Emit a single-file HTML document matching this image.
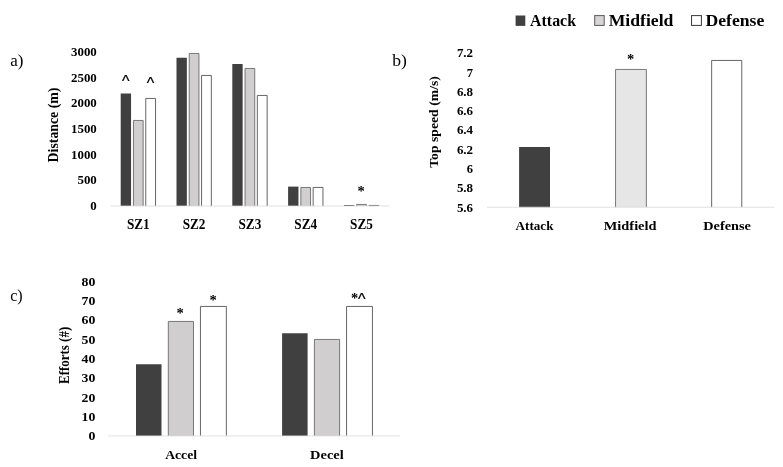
<!DOCTYPE html>
<html><head><meta charset="utf-8"><title>Figure</title>
<style>
html,body{margin:0;padding:0;background:#fff;}
svg{display:block;font-family:"Liberation Serif",serif;}
.st{font-family:"Liberation Serif",serif;font-weight:bold;font-size:14.5px;}
.ca{font-family:"Liberation Sans",sans-serif;font-size:16px;stroke:#000;stroke-width:0.2;}
</style></head><body>
<svg width="783" height="467" viewBox="0 0 783 467">
<rect x="0" y="0" width="783" height="467" fill="#ffffff"/>
<rect x="515.60" y="15.50" width="9.70" height="10.40" fill="#404040"/>
<text x="530.10" y="25.60" font-size="16.9" font-weight="bold" textLength="45.90" lengthAdjust="spacingAndGlyphs" fill="#000">Attack</text>
<rect x="594.70" y="15.60" width="9.50" height="9.80" fill="#d6d4d4" stroke="#595959" stroke-width="1.0"/>
<text x="608.70" y="25.60" font-size="16.9" font-weight="bold" textLength="64.70" lengthAdjust="spacingAndGlyphs" fill="#000">Midfield</text>
<rect x="691.55" y="15.60" width="9.85" height="9.80" fill="#fff" stroke="#383838" stroke-width="1.0"/>
<text x="705.50" y="25.60" font-size="16.9" font-weight="bold" textLength="58.80" lengthAdjust="spacingAndGlyphs" fill="#000">Defense</text>
<text x="10.20" y="66.30" font-size="16.2" font-weight="normal" textLength="13.20" lengthAdjust="spacingAndGlyphs" fill="#000">a)</text>
<text x="392.30" y="66.40" font-size="16.2" font-weight="normal" textLength="14.70" lengthAdjust="spacingAndGlyphs" fill="#000">b)</text>
<text x="10.20" y="301.00" font-size="16.2" font-weight="normal" textLength="12.50" lengthAdjust="spacingAndGlyphs" fill="#000">c)</text>
<text x="90.35" y="210.10" font-size="13.0" font-weight="bold" textLength="6.45" lengthAdjust="spacingAndGlyphs" fill="#000">0</text>
<text x="77.45" y="184.43" font-size="13.0" font-weight="bold" textLength="19.35" lengthAdjust="spacingAndGlyphs" fill="#000">500</text>
<text x="71.00" y="158.77" font-size="13.0" font-weight="bold" textLength="25.80" lengthAdjust="spacingAndGlyphs" fill="#000">1000</text>
<text x="71.00" y="133.10" font-size="13.0" font-weight="bold" textLength="25.80" lengthAdjust="spacingAndGlyphs" fill="#000">1500</text>
<text x="71.00" y="107.43" font-size="13.0" font-weight="bold" textLength="25.80" lengthAdjust="spacingAndGlyphs" fill="#000">2000</text>
<text x="71.00" y="81.77" font-size="13.0" font-weight="bold" textLength="25.80" lengthAdjust="spacingAndGlyphs" fill="#000">2500</text>
<text x="71.00" y="56.10" font-size="13.0" font-weight="bold" textLength="25.80" lengthAdjust="spacingAndGlyphs" fill="#000">3000</text>
<text transform="translate(57.90,162.40) rotate(-90)" x="0" y="0" font-size="13.6" font-weight="bold" textLength="74.80" lengthAdjust="spacingAndGlyphs">Distance (m)</text>
<path d="M120.70 206.00V93.58H131.05V206.00z" fill="#404040"/>
<path d="M133.45 206.00V120.45H143.15V206.00" fill="#d0cece" stroke="#6b6b6b" stroke-width="0.9"/>
<path d="M145.75 206.00V98.45H155.55V206.00" fill="#fff" stroke="#555555" stroke-width="0.9"/>
<text x="126.90" y="229.20" font-size="14.2" font-weight="bold" textLength="22.80" lengthAdjust="spacingAndGlyphs" fill="#000">SZ1</text>
<path d="M176.50 206.00V57.65H186.85V206.00z" fill="#404040"/>
<path d="M189.25 206.00V53.45H198.95V206.00" fill="#d0cece" stroke="#6b6b6b" stroke-width="0.9"/>
<path d="M201.55 206.00V75.45H211.35V206.00" fill="#fff" stroke="#555555" stroke-width="0.9"/>
<text x="182.70" y="229.20" font-size="14.2" font-weight="bold" textLength="22.80" lengthAdjust="spacingAndGlyphs" fill="#000">SZ2</text>
<path d="M232.30 206.00V63.91H242.65V206.00z" fill="#404040"/>
<path d="M245.05 206.00V68.45H254.75V206.00" fill="#d0cece" stroke="#6b6b6b" stroke-width="0.9"/>
<path d="M257.35 206.00V95.45H267.15V206.00" fill="#fff" stroke="#555555" stroke-width="0.9"/>
<text x="238.50" y="229.20" font-size="14.2" font-weight="bold" textLength="22.80" lengthAdjust="spacingAndGlyphs" fill="#000">SZ3</text>
<path d="M288.10 206.00V186.60H298.45V206.00z" fill="#404040"/>
<path d="M300.85 206.00V187.45H310.55V206.00" fill="#d0cece" stroke="#6b6b6b" stroke-width="0.9"/>
<path d="M313.15 206.00V187.45H322.95V206.00" fill="#fff" stroke="#555555" stroke-width="0.9"/>
<text x="294.30" y="229.20" font-size="14.2" font-weight="bold" textLength="22.80" lengthAdjust="spacingAndGlyphs" fill="#000">SZ4</text>
<path d="M343.90 206.00V205.08H354.25V206.00z" fill="#404040"/>
<path d="M356.65 206.00V204.45H366.35V206.00" fill="#d0cece" stroke="#6b6b6b" stroke-width="0.9"/>
<path d="M368.95 206.00V205.45H378.75V206.00" fill="#fff" stroke="#555555" stroke-width="0.9"/>
<text x="350.10" y="229.20" font-size="14.2" font-weight="bold" textLength="22.80" lengthAdjust="spacingAndGlyphs" fill="#000">SZ5</text>
<line x1="110.40" x2="389.40" y1="206.00" y2="206.00" stroke="#d9d9d9" stroke-width="0.8"/>
<text class="ca" x="125.70" y="86.80" text-anchor="middle">^</text>
<text class="ca" x="150.40" y="89.00" text-anchor="middle">^</text>
<text class="st" x="361.00" y="196.10" text-anchor="middle">*</text>
<text x="456.90" y="211.70" font-size="13.0" font-weight="bold" textLength="16.20" lengthAdjust="spacingAndGlyphs" fill="#000">5.6</text>
<text x="456.90" y="192.39" font-size="13.0" font-weight="bold" textLength="16.20" lengthAdjust="spacingAndGlyphs" fill="#000">5.8</text>
<text x="466.85" y="173.07" font-size="13.0" font-weight="bold" textLength="6.25" lengthAdjust="spacingAndGlyphs" fill="#000">6</text>
<text x="456.90" y="153.76" font-size="13.0" font-weight="bold" textLength="16.20" lengthAdjust="spacingAndGlyphs" fill="#000">6.2</text>
<text x="456.90" y="134.45" font-size="13.0" font-weight="bold" textLength="16.20" lengthAdjust="spacingAndGlyphs" fill="#000">6.4</text>
<text x="456.90" y="115.14" font-size="13.0" font-weight="bold" textLength="16.20" lengthAdjust="spacingAndGlyphs" fill="#000">6.6</text>
<text x="456.90" y="95.82" font-size="13.0" font-weight="bold" textLength="16.20" lengthAdjust="spacingAndGlyphs" fill="#000">6.8</text>
<text x="466.85" y="76.51" font-size="13.0" font-weight="bold" textLength="6.25" lengthAdjust="spacingAndGlyphs" fill="#000">7</text>
<text x="456.90" y="57.20" font-size="13.0" font-weight="bold" textLength="16.20" lengthAdjust="spacingAndGlyphs" fill="#000">7.2</text>
<text transform="translate(438.40,167.85) rotate(-90)" x="0" y="0" font-size="12.9" font-weight="bold" textLength="91.70" lengthAdjust="spacingAndGlyphs">Top speed (m/s)</text>
<path d="M519.10 207.20V147.00H550.00V207.20z" fill="#404040"/>
<path d="M615.55 207.20V69.45H646.35V207.20" fill="#e7e6e6" stroke="#6b6b6b" stroke-width="0.9"/>
<path d="M711.65 207.20V60.45H741.75V207.20" fill="#fff" stroke="#555555" stroke-width="0.9"/>
<line x1="487.00" x2="774.50" y1="207.20" y2="207.20" stroke="#d9d9d9" stroke-width="0.8"/>
<text x="515.60" y="230.00" font-size="13.2" font-weight="bold" textLength="37.90" lengthAdjust="spacingAndGlyphs" fill="#000">Attack</text>
<text x="603.80" y="230.00" font-size="13.2" font-weight="bold" textLength="52.70" lengthAdjust="spacingAndGlyphs" fill="#000">Midfield</text>
<text x="703.30" y="230.00" font-size="13.2" font-weight="bold" textLength="47.60" lengthAdjust="spacingAndGlyphs" fill="#000">Defense</text>
<text class="st" x="630.50" y="63.80" text-anchor="middle">*</text>
<text x="88.40" y="440.20" font-size="12.5" font-weight="bold" textLength="6.90" lengthAdjust="spacingAndGlyphs" fill="#000">0</text>
<text x="81.50" y="420.89" font-size="12.5" font-weight="bold" textLength="13.80" lengthAdjust="spacingAndGlyphs" fill="#000">10</text>
<text x="81.50" y="401.57" font-size="12.5" font-weight="bold" textLength="13.80" lengthAdjust="spacingAndGlyphs" fill="#000">20</text>
<text x="81.50" y="382.26" font-size="12.5" font-weight="bold" textLength="13.80" lengthAdjust="spacingAndGlyphs" fill="#000">30</text>
<text x="81.50" y="362.95" font-size="12.5" font-weight="bold" textLength="13.80" lengthAdjust="spacingAndGlyphs" fill="#000">40</text>
<text x="81.50" y="343.64" font-size="12.5" font-weight="bold" textLength="13.80" lengthAdjust="spacingAndGlyphs" fill="#000">50</text>
<text x="81.50" y="324.32" font-size="12.5" font-weight="bold" textLength="13.80" lengthAdjust="spacingAndGlyphs" fill="#000">60</text>
<text x="81.50" y="305.01" font-size="12.5" font-weight="bold" textLength="13.80" lengthAdjust="spacingAndGlyphs" fill="#000">70</text>
<text x="81.50" y="285.70" font-size="12.5" font-weight="bold" textLength="13.80" lengthAdjust="spacingAndGlyphs" fill="#000">80</text>
<text transform="translate(69.30,384.00) rotate(-90)" x="0" y="0" font-size="13.8" font-weight="bold" textLength="57.20" lengthAdjust="spacingAndGlyphs">Efforts (#)</text>
<path d="M136.00 435.90V364.25H161.50V435.90z" fill="#404040"/>
<path d="M168.30 435.90V321.45H193.50V435.90" fill="#d0cece" stroke="#6b6b6b" stroke-width="0.9"/>
<path d="M200.45 435.90V306.45H226.35V435.90" fill="#fff" stroke="#555555" stroke-width="0.9"/>
<path d="M282.10 435.90V333.35H307.60V435.90z" fill="#404040"/>
<path d="M314.40 435.90V339.45H339.60V435.90" fill="#d0cece" stroke="#6b6b6b" stroke-width="0.9"/>
<path d="M346.55 435.90V306.45H372.45V435.90" fill="#fff" stroke="#555555" stroke-width="0.9"/>
<line x1="108.30" x2="400.00" y1="435.90" y2="435.90" stroke="#d9d9d9" stroke-width="0.8"/>
<text x="165.20" y="459.20" font-size="13.2" font-weight="bold" textLength="31.80" lengthAdjust="spacingAndGlyphs" fill="#000">Accel</text>
<text x="310.10" y="459.20" font-size="13.2" font-weight="bold" textLength="33.60" lengthAdjust="spacingAndGlyphs" fill="#000">Decel</text>
<text class="st" x="180.00" y="317.50" text-anchor="middle">*</text>
<text class="st" x="213.20" y="304.80" text-anchor="middle">*</text>
<text class="st" x="354.60" y="302.50" text-anchor="middle">*</text>
<text class="ca" x="361.70" y="305.00" text-anchor="middle">^</text>
</svg>
</body></html>
